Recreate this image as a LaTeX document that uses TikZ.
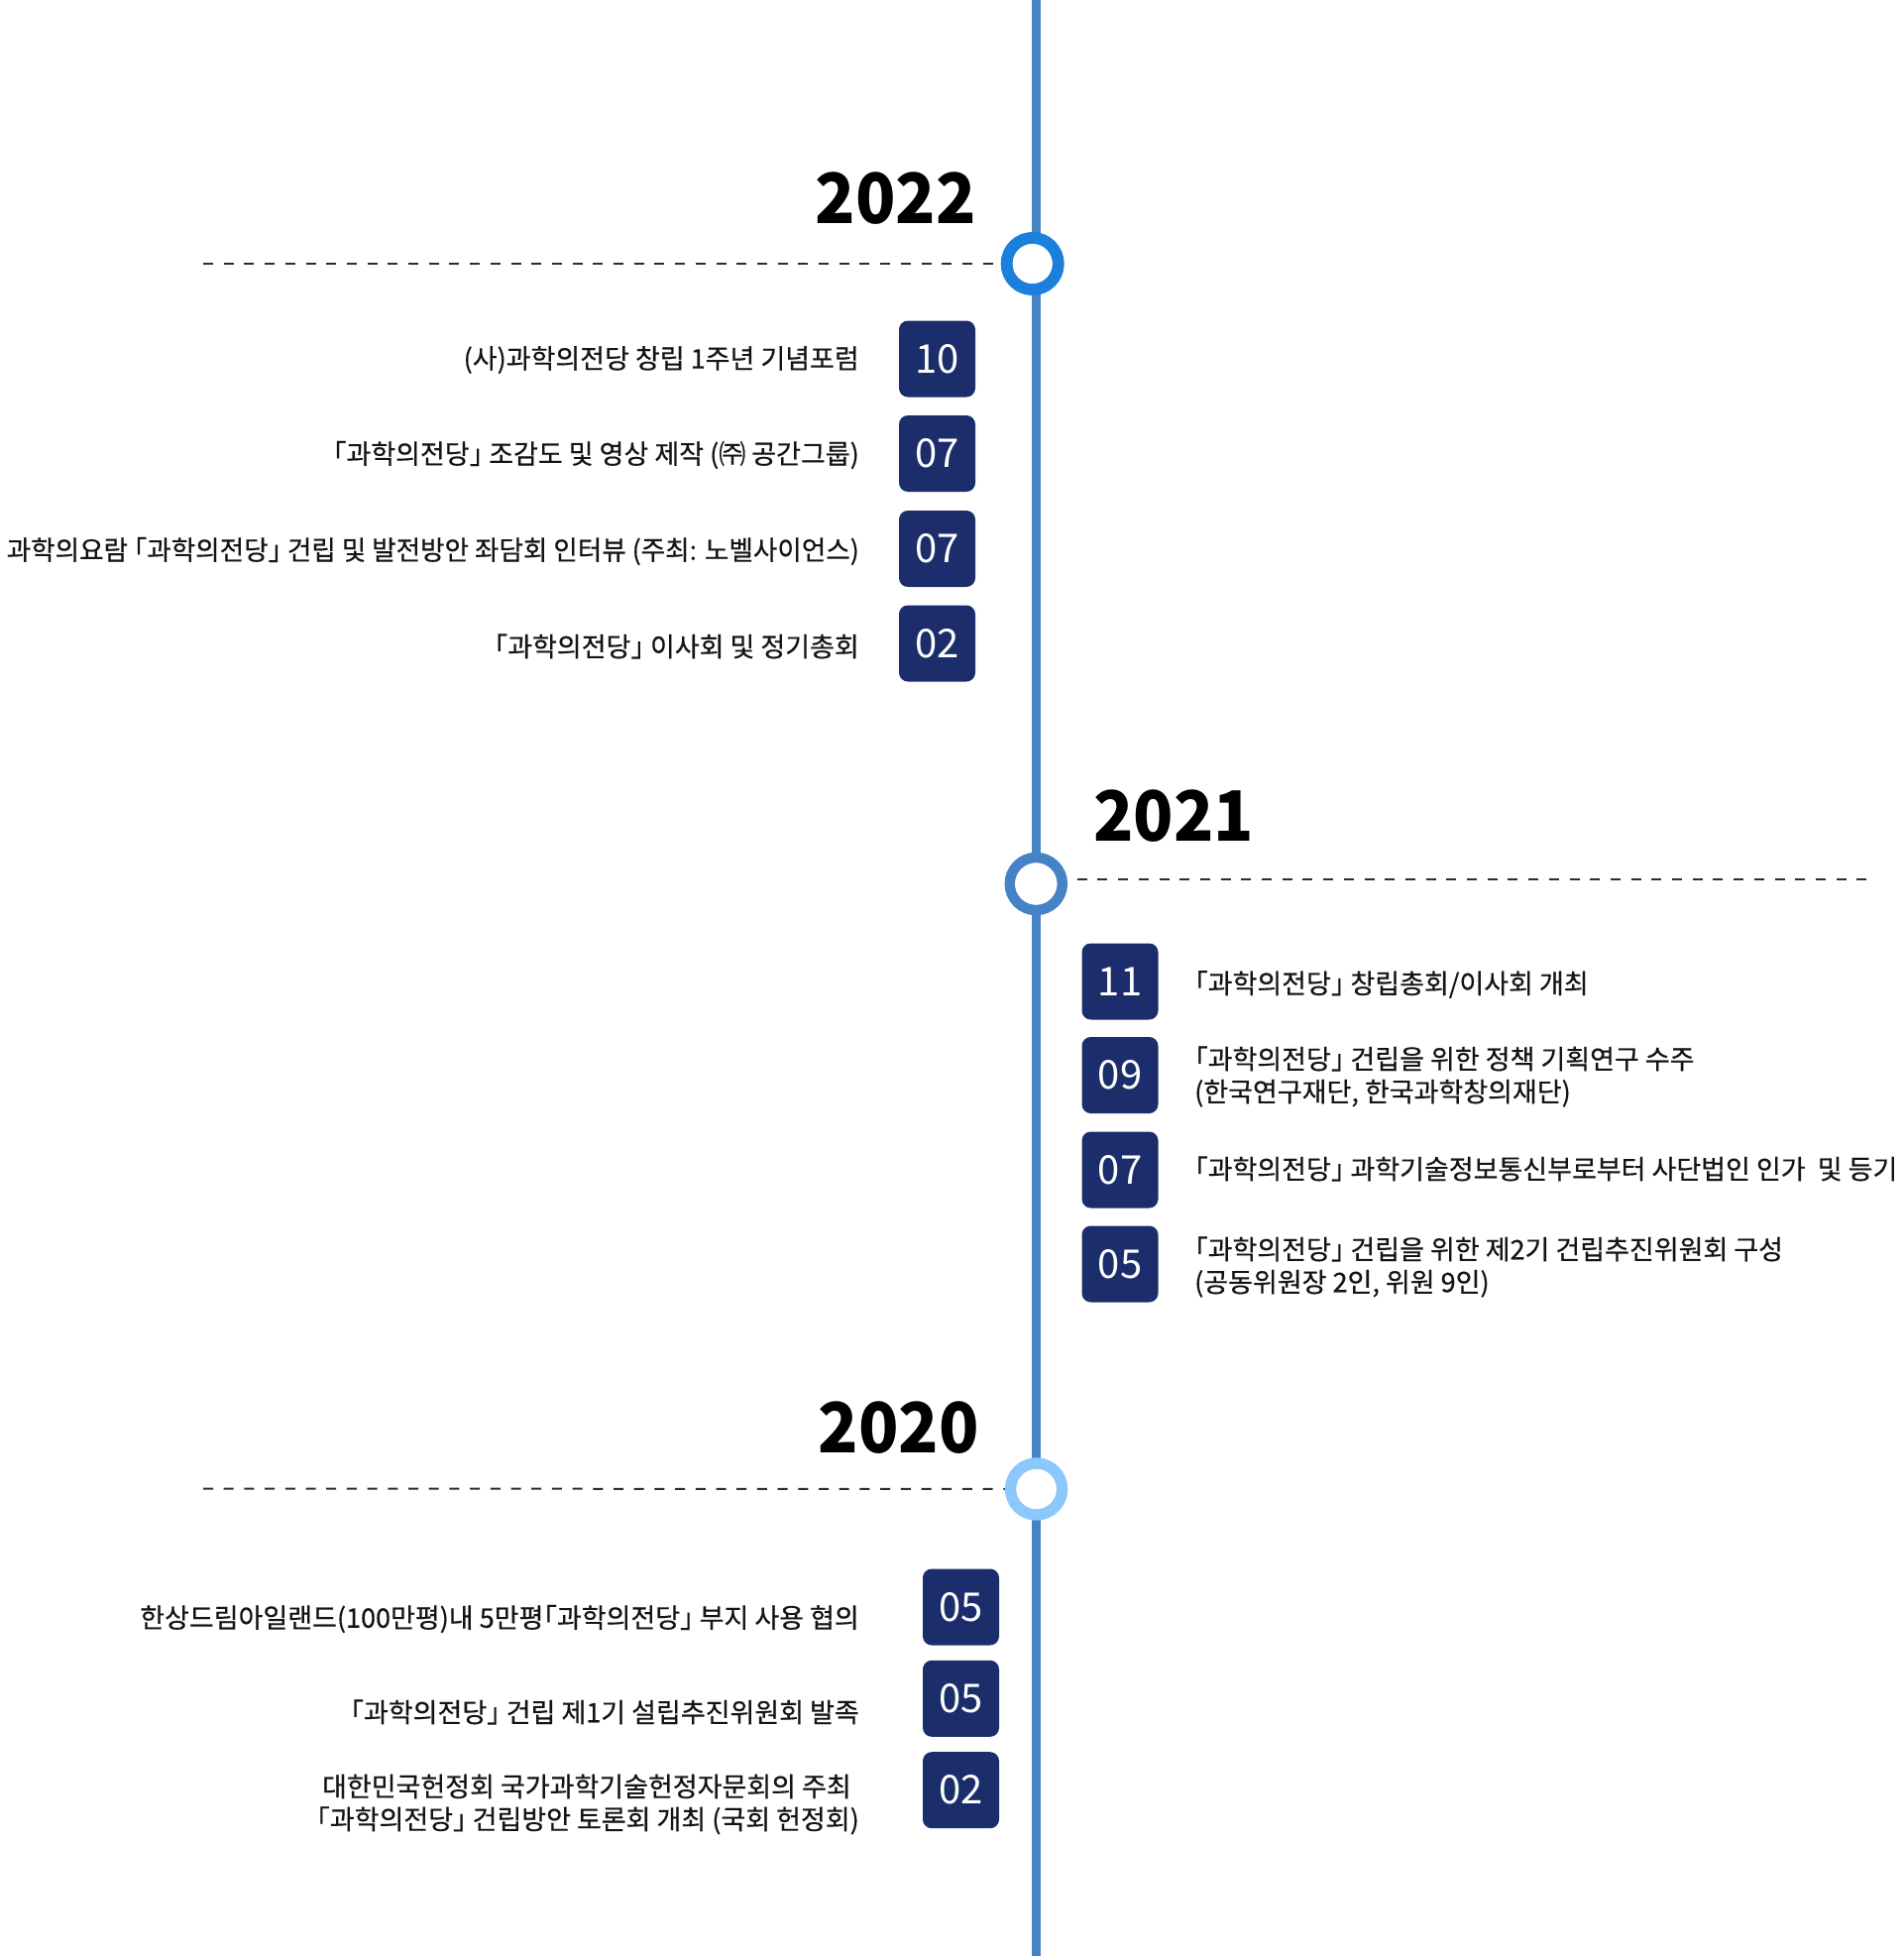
\documentclass[tikz,border=0pt]{standalone}
\usepackage{fontspec}
\setmainfont{Noto Sans CJK KR}
\newfontfamily\lblfont[FakeBold=0.5]{Noto Sans CJK KR}
\newfontfamily\brkfont[RawFeature=+halt,FakeBold=0.5]{Noto Sans CJK KR}
\newcommand{\lbk}{{\brkfont 「}}
\newcommand{\rbk}{{\brkfont 」}}
\newcommand{\yrtext}[1]{\scalebox{0.95}[1]{#1}}
\usetikzlibrary{backgrounds}
\definecolor{tline}{RGB}{70,130,198}
\definecolor{ringA}{RGB}{27,127,220}
\definecolor{ringB}{RGB}{70,130,198}
\definecolor{ringC}{RGB}{141,200,252}
\definecolor{navy}{RGB}{27,46,107}
\definecolor{ink}{RGB}{20,20,20}
\definecolor{dashc}{RGB}{45,45,45}
\tikzset{
  mon/.style={rectangle, rounded corners=9pt, fill=navy, text=white,
    minimum width=77pt, minimum height=77pt, inner sep=0pt,
    font=\fontsize{40}{40}\selectfont},
  evl/.style={anchor=east, align=right, inner sep=0pt, text=ink,
    font=\lblfont\fontsize{27}{33}\selectfont},
  evr/.style={anchor=west, align=left, inner sep=0pt, text=ink,
    font=\lblfont\fontsize{27}{33}\selectfont},
  yr/.style={inner sep=0pt, text=black, font=\bfseries\fontsize{70}{70}\selectfont},
  ring/.style={circle, fill=white, inner sep=0pt, minimum size=#1},
  dashline/.style={draw=dashc, line width=2pt, dash pattern=on 10pt off 10.7pt},
  axis/.style={draw=tline, line width=9.3pt}
}
\begin{document}
\begin{tikzpicture}[x=1pt,y=-1pt]
\useasboundingbox (0,0) rectangle (1920,1973);
% rings
\node[ring=52pt, draw=ringA, line width=12pt] (c22) at (1041.7,266) {};
\node[ring=53pt, draw=ringB, line width=10.5pt] (c21) at (1045.3,891.5) {};
\node[ring=52pt, draw=ringC, line width=11.4pt] (c20) at (1045.6,1502) {};
\coordinate (top) at (1045.5,0);
\coordinate (bot) at (1045.5,1973);
\coordinate (d22) at (205,266);
\coordinate (d21) at (1883,887);
\coordinate (d20) at (205,1501.5);
\begin{pgfonlayer}{background}
\draw[axis] (top) -- (bot);
\draw[dashline] (d22) -- (c22.center);
\draw[dashline] (c21.center |- d21) -- (d21);
\draw[dashline] (d20) -- (c20.center);
\end{pgfonlayer}
\node[fill=white, circle, minimum size=40pt, inner sep=0pt] at (c22) {};
\node[fill=white, circle, minimum size=42pt, inner sep=0pt] at (c21) {};
\node[fill=white, circle, minimum size=40pt, inner sep=0pt] at (c20) {};
% years
\node[yr, anchor=base east] (y22) at (985,225) {\yrtext{2022}};
\node[yr, anchor=base west] (y21) at (1103,848) {\yrtext{2021}};
\node[yr, anchor=base east] (y20) at (988,1465) {\yrtext{2020}};
% 2022
\node[mon] (m22a) at (945.5,362) {10};
\node[mon] (m22b) at (945.5,457.5) {07};
\node[mon] (m22c) at (945.5,553.5) {07};
\node[mon] (m22d) at (945.5,649) {02};
\node[evl] (t22a) at (867,363) {(사)과학의전당 창립 1주년 기념포럼};
\node[evl] (t22b) at (867,459) {\lbk 과학의전당\rbk{} 조감도 및 영상 제작 (㈜ 공간그룹)};
\node[evl] (t22c) at (867,556) {\scalebox{0.985}[1]{과학의요람 \lbk 과학의전당\rbk{} 건립 및 발전방안 좌담회 인터뷰 (주최: 노벨사이언스)}};
\node[evl] (t22d) at (867,652) {\lbk 과학의전당\rbk{} 이사회 및 정기총회};
% 2021
\node[mon] (m21a) at (1130,990) {11};
\node[mon] (m21b) at (1130,1084.5) {09};
\node[mon] (m21c) at (1130,1180) {07};
\node[mon] (m21d) at (1130,1275) {05};
\node[evr] (t21a) at (1205,993) {\lbk 과학의전당\rbk{} 창립총회/이사회 개최};
\node[evr] (t21b) at (1205,1086) {\lbk 과학의전당\rbk{} 건립을 위한 정책 기획연구 수주\\(한국연구재단, 한국과학창의재단)};
\node[evr] (t21c) at (1205,1179) {\lbk 과학의전당\rbk{} 과학기술정보통신부로부터 사단법인 인가\ \ 및 등기};
\node[evr] (t21d) at (1205,1278) {\lbk 과학의전당\rbk{} 건립을 위한 제2기 건립추진위원회 구성\\(공동위원장 2인, 위원 9인)};
% 2020
\node[mon] (m20a) at (969.5,1621) {05};
\node[mon] (m20b) at (969.5,1713.3) {05};
\node[mon] (m20c) at (969.5,1805.7) {02};
\node[evl] (t20a) at (867,1633) {한상드림아일랜드(100만평)내 5만평\lbk 과학의전당\rbk{} 부지 사용 협의};
\node[evl] (t20b) at (867,1727) {\lbk 과학의전당\rbk{} 건립 제1기 설립추진위원회 발족};
\node[evl] (t20c) at (867,1820) {대한민국헌정회 국가과학기술헌정자문회의 주최\hspace*{8pt}\\\lbk 과학의전당\rbk{} 건립방안 토론회 개최 (국회 헌정회)};
\end{tikzpicture}
\end{document}
